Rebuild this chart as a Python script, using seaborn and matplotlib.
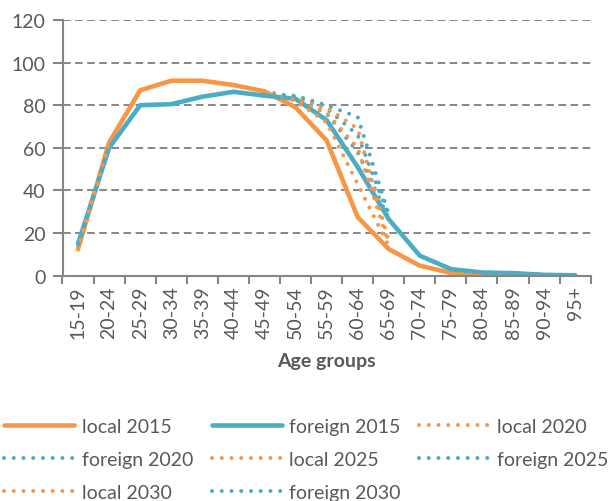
import numpy as np
import pandas as pd
import matplotlib
matplotlib.use("Agg")
import matplotlib.pyplot as plt
from matplotlib.lines import Line2D
import seaborn as sns

# Данные
ages = ['15-19', '20-24', '25-29', '30-34', '35-39', '40-44', '45-49', '50-54',
        '55-59', '60-64', '65-69', '70-74', '75-79', '80-84', '85-89', '90-94', '95+']
nan = np.nan

local_2015 = [12.5, 62.5, 87, 91.5, 91.5, 89.5, 86.5, 79, 63.5, 27.5, 12.5, 4.7, 1.3, 0.4, 0.3, 0.2, 0.1]
foreign_2015 = [15, 60, 80, 80.5, 84, 86.3, 84.5, 83, 73, 51, 26.5, 9.4, 3.1, 1.5, 1.2, 0.4, 0.2]

local_2020 = [12.5, 62.5, nan, nan, nan, nan, 86.5, 82, 72, 43, 14, nan, 1.2, 0.5, 0.4, 0.2, 0.1]
foreign_2020 = [15, 60, nan, nan, nan, nan, 85, 83.5, 76, 58, 27, nan, 3.0, 1.5, 1.2, 0.4, 0.2]
local_2025 = [12.5, 62.5, nan, nan, nan, nan, 86.5, 83, 76.5, 60, 15, nan, 1.2, 0.5, 0.4, 0.2, 0.1]
foreign_2025 = [15, 60, nan, nan, nan, nan, 85, 84, 78.5, 66, 28, nan, 3.0, 1.5, 1.2, 0.4, 0.2]
local_2030 = [12.5, 62.5, nan, nan, nan, nan, 86.5, 84, 79, 69, 16, nan, 1.2, 0.5, 0.4, 0.2, 0.1]
foreign_2030 = [15, 60, nan, nan, nan, nan, 85, 84.5, 80, 74.5, 29, nan, 3.0, 1.5, 1.2, 0.4, 0.2]

# Стиль
sns.set_theme(style="ticks")
plt.rcParams['font.family'] = ['Lato', 'DejaVu Sans']
plt.rcParams['lines.scale_dashes'] = False

orange = '#F79646'
blue = '#4BACC6'
grey = '#868686'
text_col = '#595959'

series = [
    ("local 2015", local_2015, orange, 'solid'),
    ("foreign 2015", foreign_2015, blue, 'solid'),
    ("local 2020", local_2020, orange, 'dot'),
    ("foreign 2020", foreign_2020, blue, 'dot'),
    ("local 2025", local_2025, orange, 'dot'),
    ("foreign 2025", foreign_2025, blue, 'dot'),
    ("local 2030", local_2030, orange, 'dot'),
    ("foreign 2030", foreign_2030, blue, 'dot'),
]

fig = plt.figure(figsize=(6.16, 5.02), dpi=100)
ax = fig.add_axes([62.5 / 616, 1 - 276.7 / 502, (590.7 - 62.5) / 616, (276.7 - 21) / 502])

pos = np.arange(len(ages))
handles = {}
for name, vals, color, kind in series:
    df = pd.DataFrame({'pos': pos, 'val': vals})
    df['seg'] = df['val'].isna().cumsum()  # разрывы на пропусках
    df = df.dropna()
    if kind == 'solid':
        kw = dict(linewidth=3.3, linestyle='-', solid_joinstyle='round', solid_capstyle='round')
    else:
        kw = dict(linewidth=2.9, linestyle=(0, (0.01, 7.0)), dash_capstyle='round')
    n_before = len(ax.lines)
    sns.lineplot(data=df, x='pos', y='val', units='seg', estimator=None,
                 color=color, ax=ax, legend=False, **kw)
    for ln in ax.lines[n_before:]:
        ln.set_linestyle(kw['linestyle'])
        if kind != 'solid':
            ln.set_dash_capstyle('round')
    handles[name] = Line2D([], [], color=color, **kw)

ax.set_xlim(-0.5, len(ages) - 0.5)
ax.set_ylim(0, 120)
ax.set_yticks(range(0, 121, 20))
ax.set_xticks(pos)
ax.set_xticklabels(ages, rotation=90)
ax.set_xticks(np.arange(-0.5, len(ages), 1), minor=True)

ax.tick_params(axis='x', which='major', length=0, pad=7, labelsize=14, labelcolor=text_col)
ax.tick_params(axis='x', which='minor', bottom=True, length=6, width=1.5, color=grey)
ax.tick_params(axis='y', length=7, width=1.5, color=grey, labelsize=14, labelcolor=text_col, pad=5)

ax.yaxis.grid(True, linestyle=(0, (5.5, 3.2)), color=grey, linewidth=1.4)
ax.set_axisbelow(True)
sns.despine(ax=ax)
for sp in ['left', 'bottom']:
    ax.spines[sp].set_color(grey)
    ax.spines[sp].set_linewidth(1.5)

ax.set_xlabel('Age groups', fontsize=14, fontweight='bold', color=text_col, labelpad=10)
ax.set_ylabel('')

# Легенда: заполнение по строкам в 3 колонки
order = ["local 2015", "foreign 2020", "local 2030",
         "foreign 2015", "local 2025", "foreign 2030",
         "local 2020", "foreign 2025"]
leg = fig.legend([handles[k] for k in order], order, ncol=3, loc='upper left',
                 bbox_to_anchor=(4 / 616, 1 - 419 / 502), frameon=False, fontsize=14,
                 handlelength=3.6, handletextpad=0.4, columnspacing=0.95,
                 labelspacing=0.83, borderpad=0, borderaxespad=0)
for t in leg.get_texts():
    t.set_color(text_col)

fig.savefig('out.png', dpi=100)
